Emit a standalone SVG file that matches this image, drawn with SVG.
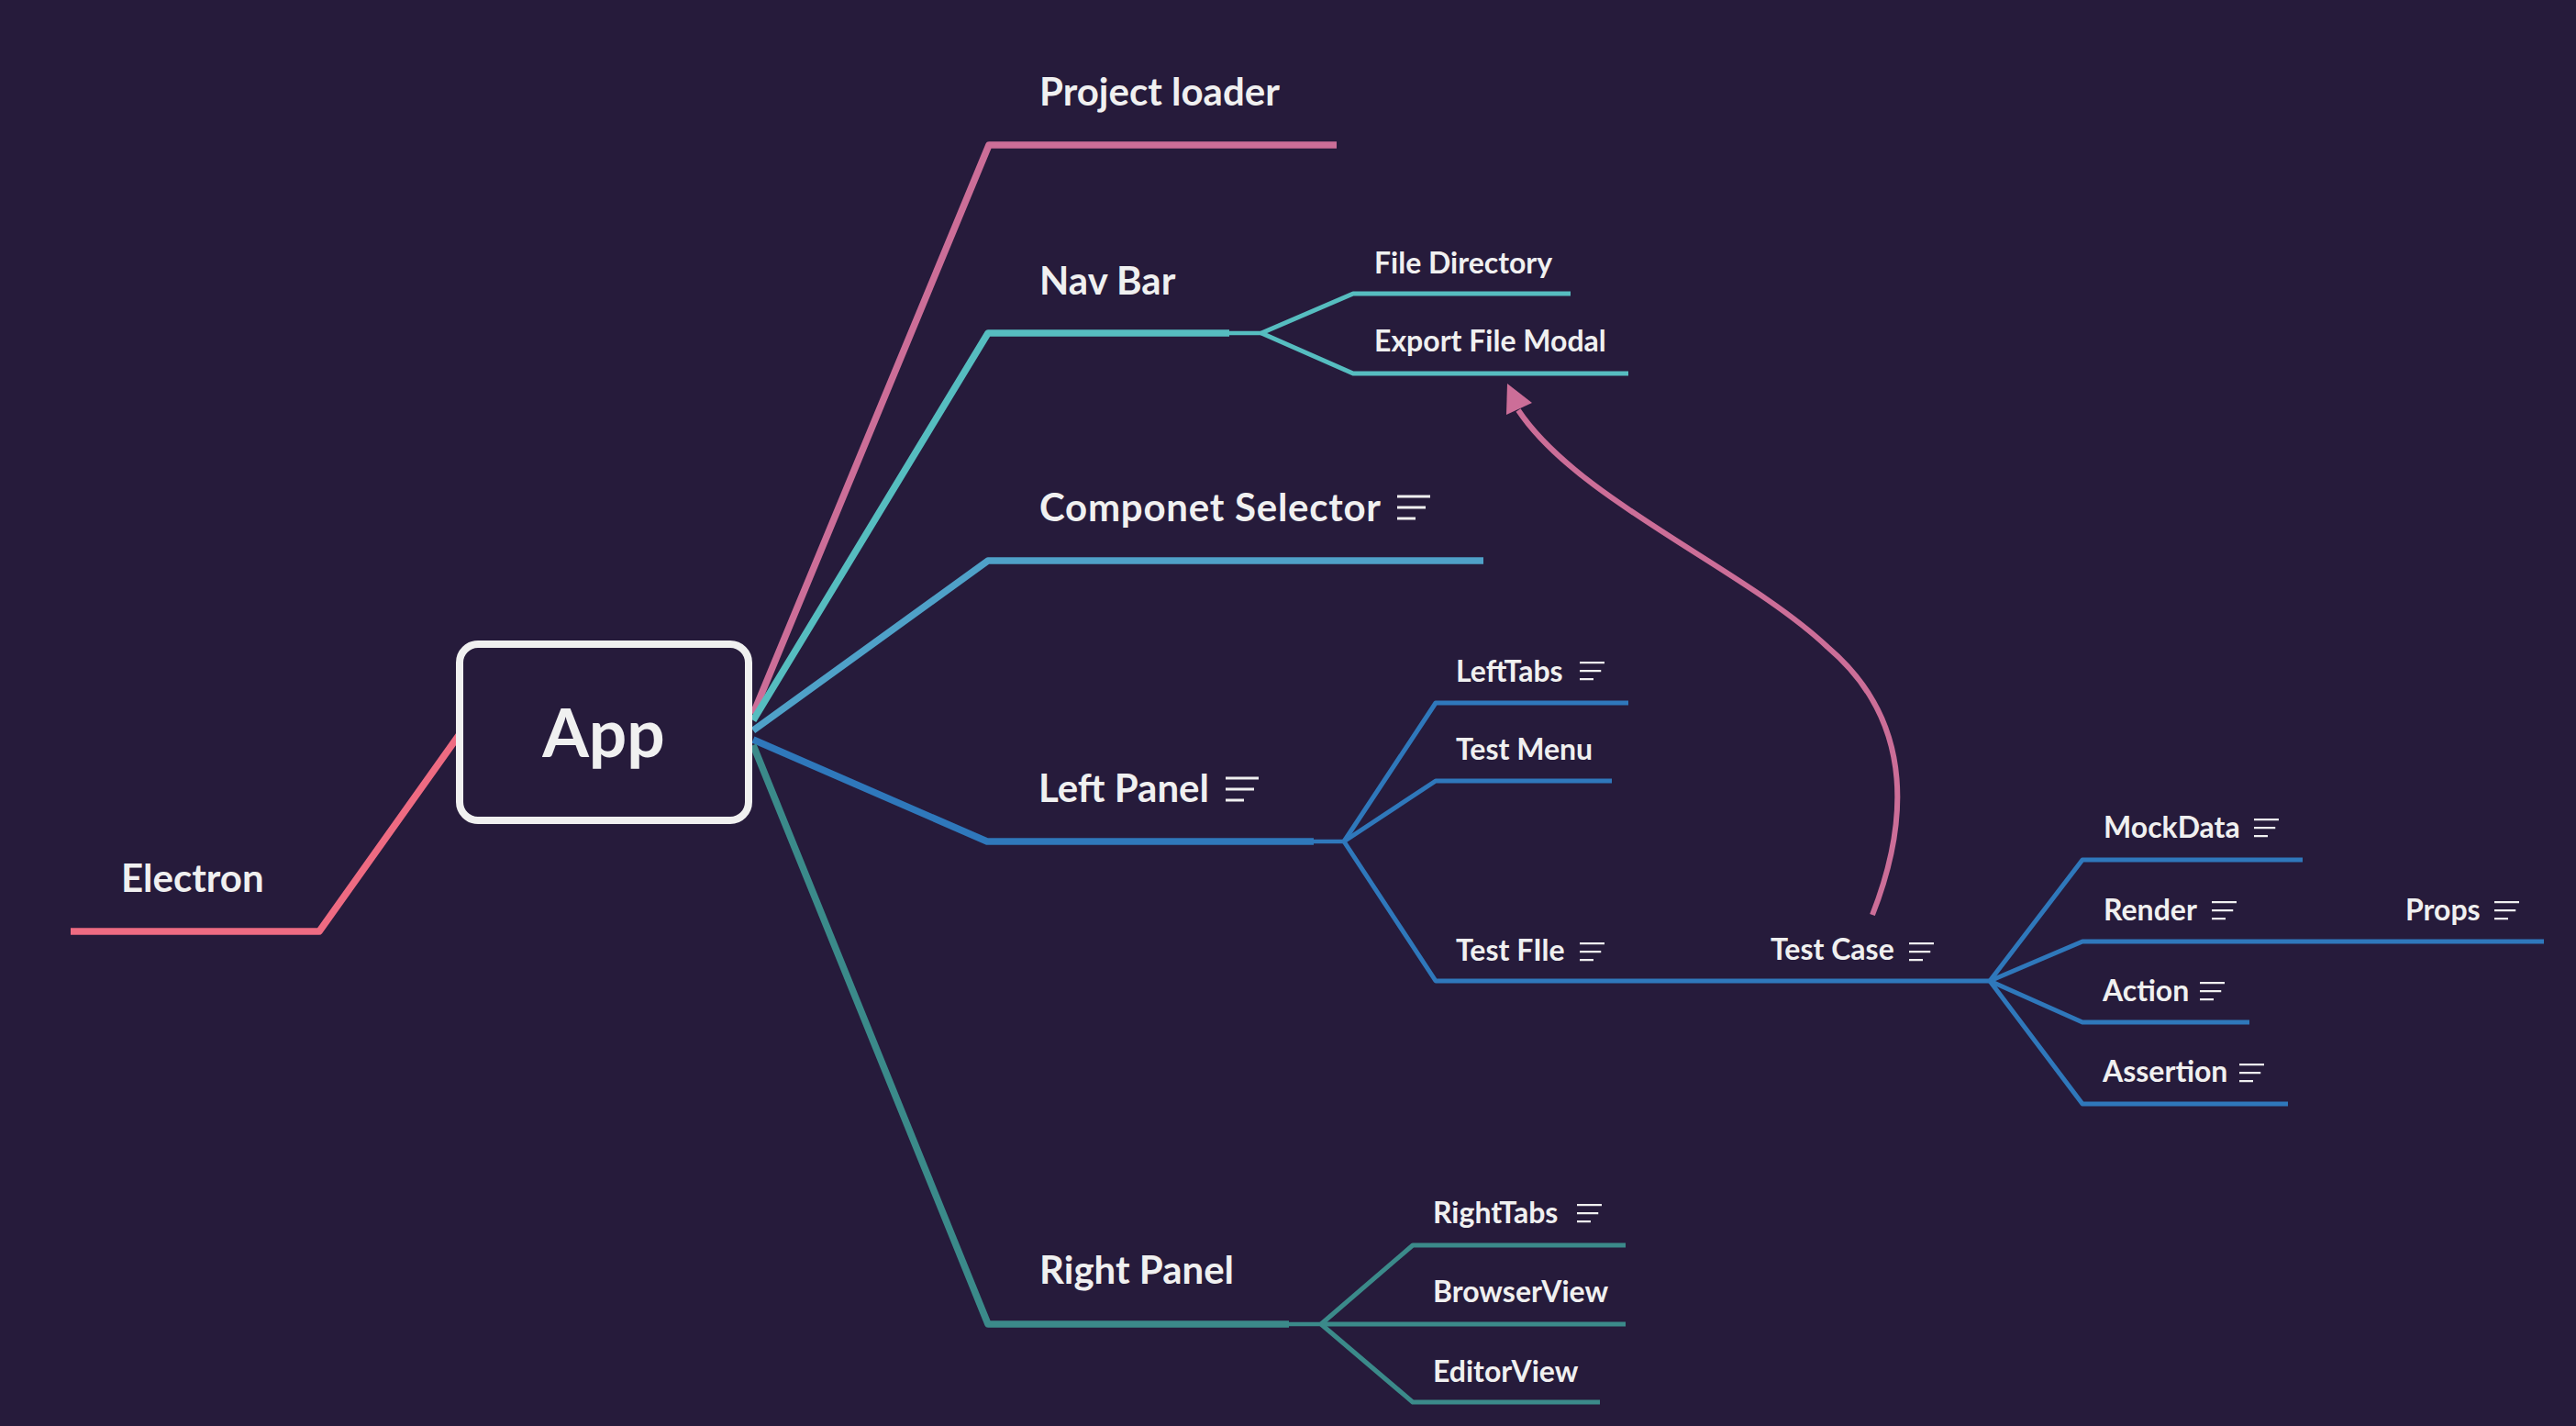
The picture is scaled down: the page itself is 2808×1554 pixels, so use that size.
<svg xmlns="http://www.w3.org/2000/svg" xmlns:xlink="http://www.w3.org/1999/xlink" width="2808" height="1554" viewBox="0 0 2808 1554">
<style>
.t{font-family:Lato,"Open Sans","Liberation Sans",sans-serif;font-weight:700;fill:#f0f0f0}
.big{font-size:42px}
.sm{font-size:32px}
.ln{fill:none;stroke-linecap:butt;stroke-linejoin:round}
.w1{stroke-width:7.5}
.w2{stroke-width:5}
.w3{stroke-width:4.5}
.pink{stroke:#cc6e98}
.red{stroke:#ee6b82}
.cyan{stroke:#56bdc0}
.sky{stroke:#4fa1c8}
.blue{stroke:#2f78bb}
.teal{stroke:#3b8a8a}
</style>
<defs>
<g id="note" fill="#f0f0f0"><rect x="0" y="0" width="36" height="3"/><rect x="0" y="12" width="31" height="3"/><rect x="0" y="24" width="20" height="3"/></g>
</defs>
<rect x="0" y="0" width="2808" height="1554" fill="#261b3b"/>
<g id="connectors">
<polyline class="ln w1 red" points="501,800 348,1015 77,1015"/>
<polyline class="ln w1 pink" points="821,778 1078,158 1457,158"/>
<polyline class="ln w1 cyan" points="821,785 1077,363 1340,363"/>
<polyline class="ln w3 cyan" points="1338,363 1375,363"/>
<polyline class="ln w2 cyan" points="1375,363 1475,320 1712,320"/>
<polyline class="ln w2 cyan" points="1375,363 1475,407 1775,407"/>
<polyline class="ln w1 sky" points="821,796 1077,611 1617,611"/>
<polyline class="ln w1 blue" points="821,806 1076,917 1432,917"/>
<polyline class="ln w3 blue" points="1430,917 1465,917"/>
<polyline class="ln w2 blue" points="1465,917 1565,766 1775,766"/>
<polyline class="ln w2 blue" points="1465,917 1565,851 1757,851"/>
<polyline class="ln w2 blue" points="1465,917 1565,1069 2169,1069"/>
<polyline class="ln w2 blue" points="2169,1069 2270,937 2510,937"/>
<polyline class="ln w2 blue" points="2169,1069 2270,1026 2773,1026"/>
<polyline class="ln w2 blue" points="2169,1069 2270,1114 2452,1114"/>
<polyline class="ln w2 blue" points="2169,1069 2270,1203 2494,1203"/>
<polyline class="ln w1 teal" points="821,812 1077,1443 1405,1443"/>
<polyline class="ln w3 teal" points="1403,1443 1440,1443"/>
<polyline class="ln w2 teal" points="1440,1443 1540,1357 1772,1357"/>
<polyline class="ln w2 teal" points="1440,1443 1772,1443"/>
<polyline class="ln w2 teal" points="1440,1443 1540,1528 1744,1528"/>
<path class="ln pink" stroke-width="6" d="M2041,997 C2077,905 2092,790 1992,705 C1902,620 1720,545 1655,447"/>
<polygon points="1643,418 1642,452 1670,439" fill="#cc6e98"/>
</g>
<g id="node-app">
<rect x="501" y="702" width="315" height="192" rx="20" fill="#261b3b" stroke="#f0f0f0" stroke-width="8"/>
<text class="t" x="658" y="825" font-size="73" text-anchor="middle">App</text>
</g>
<g id="node-electron"><text class="t big" x="132" y="972">Electron</text></g>
<g id="node-project-loader"><text class="t big" x="1133" y="115">Project loader</text></g>
<g id="node-nav-bar"><text class="t big" x="1133" y="321">Nav Bar</text></g>
<g id="node-file-directory"><text class="t sm" x="1498" y="298">File Directory</text></g>
<g id="node-export-file-modal"><text class="t sm" x="1498" y="383">Export File Modal</text></g>
<g id="node-componet-selector"><text class="t big" x="1133" y="568" textLength="372">Componet Selector</text><use xlink:href="#note" href="#note" x="1523" y="539.5"/></g>
<g id="node-left-panel"><text class="t big" x="1132" y="874">Left Panel</text><use xlink:href="#note" href="#note" x="1336" y="846.5"/></g>
<g id="node-lefttabs"><text class="t sm" x="1587" y="743">LeftTabs</text><use xlink:href="#note" href="#note" transform="translate(1722,721) scale(0.75)"/></g>
<g id="node-test-menu"><text class="t sm" x="1587" y="828">Test Menu</text></g>
<g id="node-test-file"><text class="t sm" x="1587" y="1047">Test FIle</text><use xlink:href="#note" href="#note" transform="translate(1722,1027) scale(0.75)"/></g>
<g id="node-test-case"><text class="t sm" x="1930" y="1046">Test Case</text><use xlink:href="#note" href="#note" transform="translate(2081,1027) scale(0.75)"/></g>
<g id="node-mockdata"><text class="t sm" x="2293" y="913">MockData</text><use xlink:href="#note" href="#note" transform="translate(2457,892) scale(0.75)"/></g>
<g id="node-render"><text class="t sm" x="2293" y="1003">Render</text><use xlink:href="#note" href="#note" transform="translate(2411,982) scale(0.75)"/></g>
<g id="node-props"><text class="t sm" x="2622" y="1003">Props</text><use xlink:href="#note" href="#note" transform="translate(2719,982) scale(0.75)"/></g>
<g id="node-action"><text class="t sm" x="2292" y="1091">Action</text><use xlink:href="#note" href="#note" transform="translate(2398,1070) scale(0.75)"/></g>
<g id="node-assertion"><text class="t sm" x="2292" y="1179">Assertion</text><use xlink:href="#note" href="#note" transform="translate(2441,1159) scale(0.75)"/></g>
<g id="node-right-panel"><text class="t big" x="1133" y="1399">Right Panel</text></g>
<g id="node-righttabs"><text class="t sm" x="1562" y="1333">RightTabs</text><use xlink:href="#note" href="#note" transform="translate(1719,1312) scale(0.75)"/></g>
<g id="node-browserview"><text class="t sm" x="1562" y="1419">BrowserView</text></g>
<g id="node-editorview"><text class="t sm" x="1562" y="1506">EditorView</text></g>
</svg>
